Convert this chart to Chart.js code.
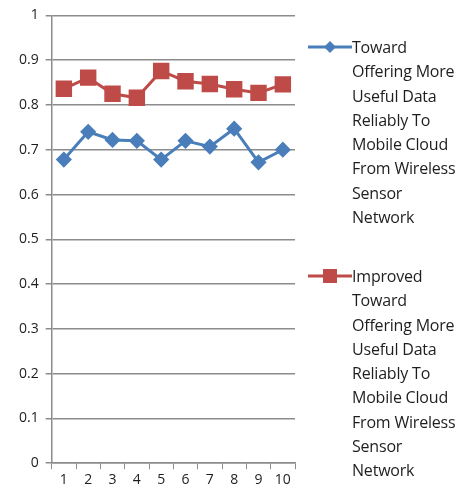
<!DOCTYPE html>
<html>
<head>
<meta charset="utf-8">
<script src="https://cdn.jsdelivr.net/npm/chart.js@4/dist/chart.umd.min.js"></script>
<style>
  body { margin: 0; background: #fff; }
  #wrap { position: relative; width: 474px; height: 490px; }
  #legend { position: absolute; left: 0; top: 0; font-family: "Open Sans", sans-serif; font-size: 16px; color: #1e1e1e; }
  .entry { position: absolute; left: 308px; width: 170px; }
  .entry svg { position: absolute; left: 0; top: 5px; }
  .entry div { margin-left: 44px; line-height: 24.3px; white-space: nowrap; letter-spacing: -0.2px; }
</style>
</head>
<body>
<div id="wrap">
  <canvas id="chart" width="474" height="490"></canvas>
  <div id="legend"></div>
</div>
<script>
const categories = ["1", "2", "3", "4", "5", "6", "7", "8", "9", "10"];
const seriesNames = [
  "Toward Offering More Useful Data Reliably To Mobile Cloud From Wireless Sensor Network",
  "Improved Toward Offering More Useful Data Reliably To Mobile Cloud From Wireless Sensor Network",
];
const seriesLines = [
  ["Toward", "Offering More", "Useful Data", "Reliably To", "Mobile Cloud", "From Wireless", "Sensor", "Network"],
  ["Improved", "Toward", "Offering More", "Useful Data", "Reliably To", "Mobile Cloud", "From Wireless", "Sensor", "Network"],
];
const baseValues = [0.678, 0.740, 0.722, 0.720, 0.678, 0.720, 0.707, 0.747, 0.672, 0.700];
const improvedValues = [0.836, 0.861, 0.825, 0.816, 0.876, 0.853, 0.847, 0.835, 0.827, 0.846];

const blue = "#4a7ebb";
const red = "#be4b48";
const gridColor = "#8c8c8c";
const tickFont = { family: "Open Sans", size: 14 };

const chart = new Chart(document.getElementById("chart"), {
  type: "line",
  data: {
    labels: categories,
    datasets: [
      {
        label: seriesNames[0],
        data: baseValues,
        borderColor: blue,
        backgroundColor: blue,
        borderWidth: 3,
        pointStyle: "rectRot",
        pointRadius: 6,
        pointHoverRadius: 6,
        tension: 0,
      },
      {
        label: seriesNames[1],
        data: improvedValues,
        borderColor: red,
        backgroundColor: red,
        borderWidth: 3,
        pointStyle: "rect",
        pointRadius: 9.5,
        pointHoverRadius: 9.5,
        tension: 0,
      },
    ],
  },
  options: {
    responsive: false,
    animation: false,
    layout: { padding: { top: 8, right: 179, left: 12, bottom: 0 } },
    plugins: {
      legend: { display: false },
      tooltip: { enabled: false },
    },
    scales: {
      x: {
        offset: true,
        grid: {
          offset: true,
          drawOnChartArea: false,
          drawTicks: true,
          tickLength: 6,
          color: gridColor,
        },
        border: { color: gridColor, width: 1.5 },
        ticks: {
          color: "#1e1e1e",
          font: tickFont,
          padding: 2,
          maxRotation: 0,
          autoSkip: false,
        },
      },
      y: {
        min: 0,
        max: 1,
        grid: {
          color: gridColor,
          lineWidth: 1.5,
          drawTicks: true,
          tickLength: 6,
        },
        border: { color: gridColor, width: 1.5 },
        ticks: {
          stepSize: 0.1,
          color: "#1e1e1e",
          font: tickFont,
          padding: 7,
          callback: (v) => Math.round(v * 10) / 10,
        },
      },
    },
  },
});

// multi-line legend drawn as html beside the plot
const legend = document.getElementById("legend");
const legendTops = [35, 264];
seriesLines.forEach((lines, i) => {
  const entry = document.createElement("div");
  entry.className = "entry";
  entry.style.top = legendTops[i] + "px";
  const color = i === 0 ? blue : red;
  const marker = i === 0
    ? `<polygon points="22,1 28,7 22,13 16,7" fill="${color}"/>`
    : `<rect x="15" y="0" width="14" height="14" fill="${color}"/>`;
  entry.innerHTML =
    `<svg width="44" height="14"><line x1="0" y1="7" x2="44" y2="7" stroke="${color}" stroke-width="3"/>${marker}</svg>` +
    `<div>${lines.join("<br>")}</div>`;
  legend.appendChild(entry);
});
</script>
</body>
</html>
